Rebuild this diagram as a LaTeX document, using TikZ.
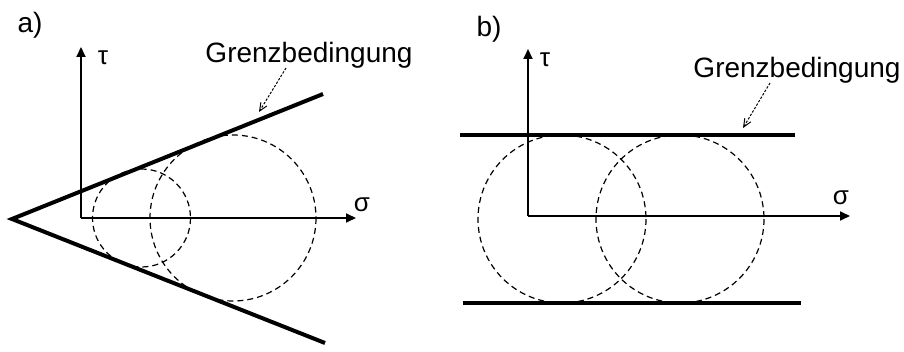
\documentclass[tikz,border=0pt]{standalone}
\usepackage{fontspec}
\setmainfont{Liberation Sans}
\usetikzlibrary{arrows.meta}
\begin{document}
\begin{tikzpicture}[x=0.5pt,y=-0.5pt,
  limit/.style={line width=2pt},
  axis/.style={line width=0.9pt, -{Triangle[length=5pt,width=4.5pt]}},
  mohr/.style={line width=0.6pt, dash pattern=on 3pt off 2pt},
  pointer/.style={line width=0.5pt, dash pattern=on 1.2pt off 0.8pt, -{Straight Barb[length=4pt,width=3.5pt]}},
  lbl/.style={inner sep=0pt, font=\fontsize{14}{16}\selectfont},
  sym/.style={inner sep=0pt, font=\fontsize{13}{15}\selectfont}]
\useasboundingbox (0,0) rectangle (904,352);
% ---------- panel a ----------
\node[lbl] (la) at (30,25) {a)};
\coordinate (aO) at (81,218);
\coordinate (aT) at (81,47);
\coordinate (aS) at (356,218);
\coordinate (aV) at (12,219);
\coordinate (aU) at (323,94);
\coordinate (aL) at (325,343);
\draw[axis] (aO) -- (aT);
\draw[axis] (aO) -- (aS);
\node[sym] (taua) at (103,58) {τ};
\node[sym] (siga) at (362,205) {σ};
\draw[limit] (aU) -- (aV) -- (aL);
\draw[mohr] (141.5,218) circle[radius=49];
\draw[mohr] (233,218) circle[radius=83];
\node[lbl] (ga) at (309,55) {Grenzbedingung};
\coordinate (gaS) at (286,68);
\coordinate (gaE) at (259,112);
\draw[pointer] (gaS) -- (gaE);
% ---------- panel b ----------
\node[lbl] (lb) at (489,29) {b)};
\coordinate (bO) at (528,216);
\coordinate (bT) at (528,49);
\coordinate (bS) at (850,216);
\draw[axis] (bO) -- (bT);
\draw[axis] (bO) -- (bS);
\node[sym] (taub) at (545,60) {τ};
\node[sym] (sigb) at (841,198) {σ};
\coordinate (bU1) at (460,135);
\coordinate (bU2) at (795,135);
\coordinate (bL1) at (463,303);
\coordinate (bL2) at (801,303);
\draw[limit] (bU1) -- (bU2);
\draw[limit] (bL1) -- (bL2);
\draw[mohr] (562,219) circle[radius=84];
\draw[mohr] (680,219) circle[radius=84];
\node[lbl] (gb) at (797,70) {Grenzbedingung};
\coordinate (gbS) at (770,83);
\coordinate (gbE) at (743,128);
\draw[pointer] (gbS) -- (gbE);
\end{tikzpicture}
\end{document}
